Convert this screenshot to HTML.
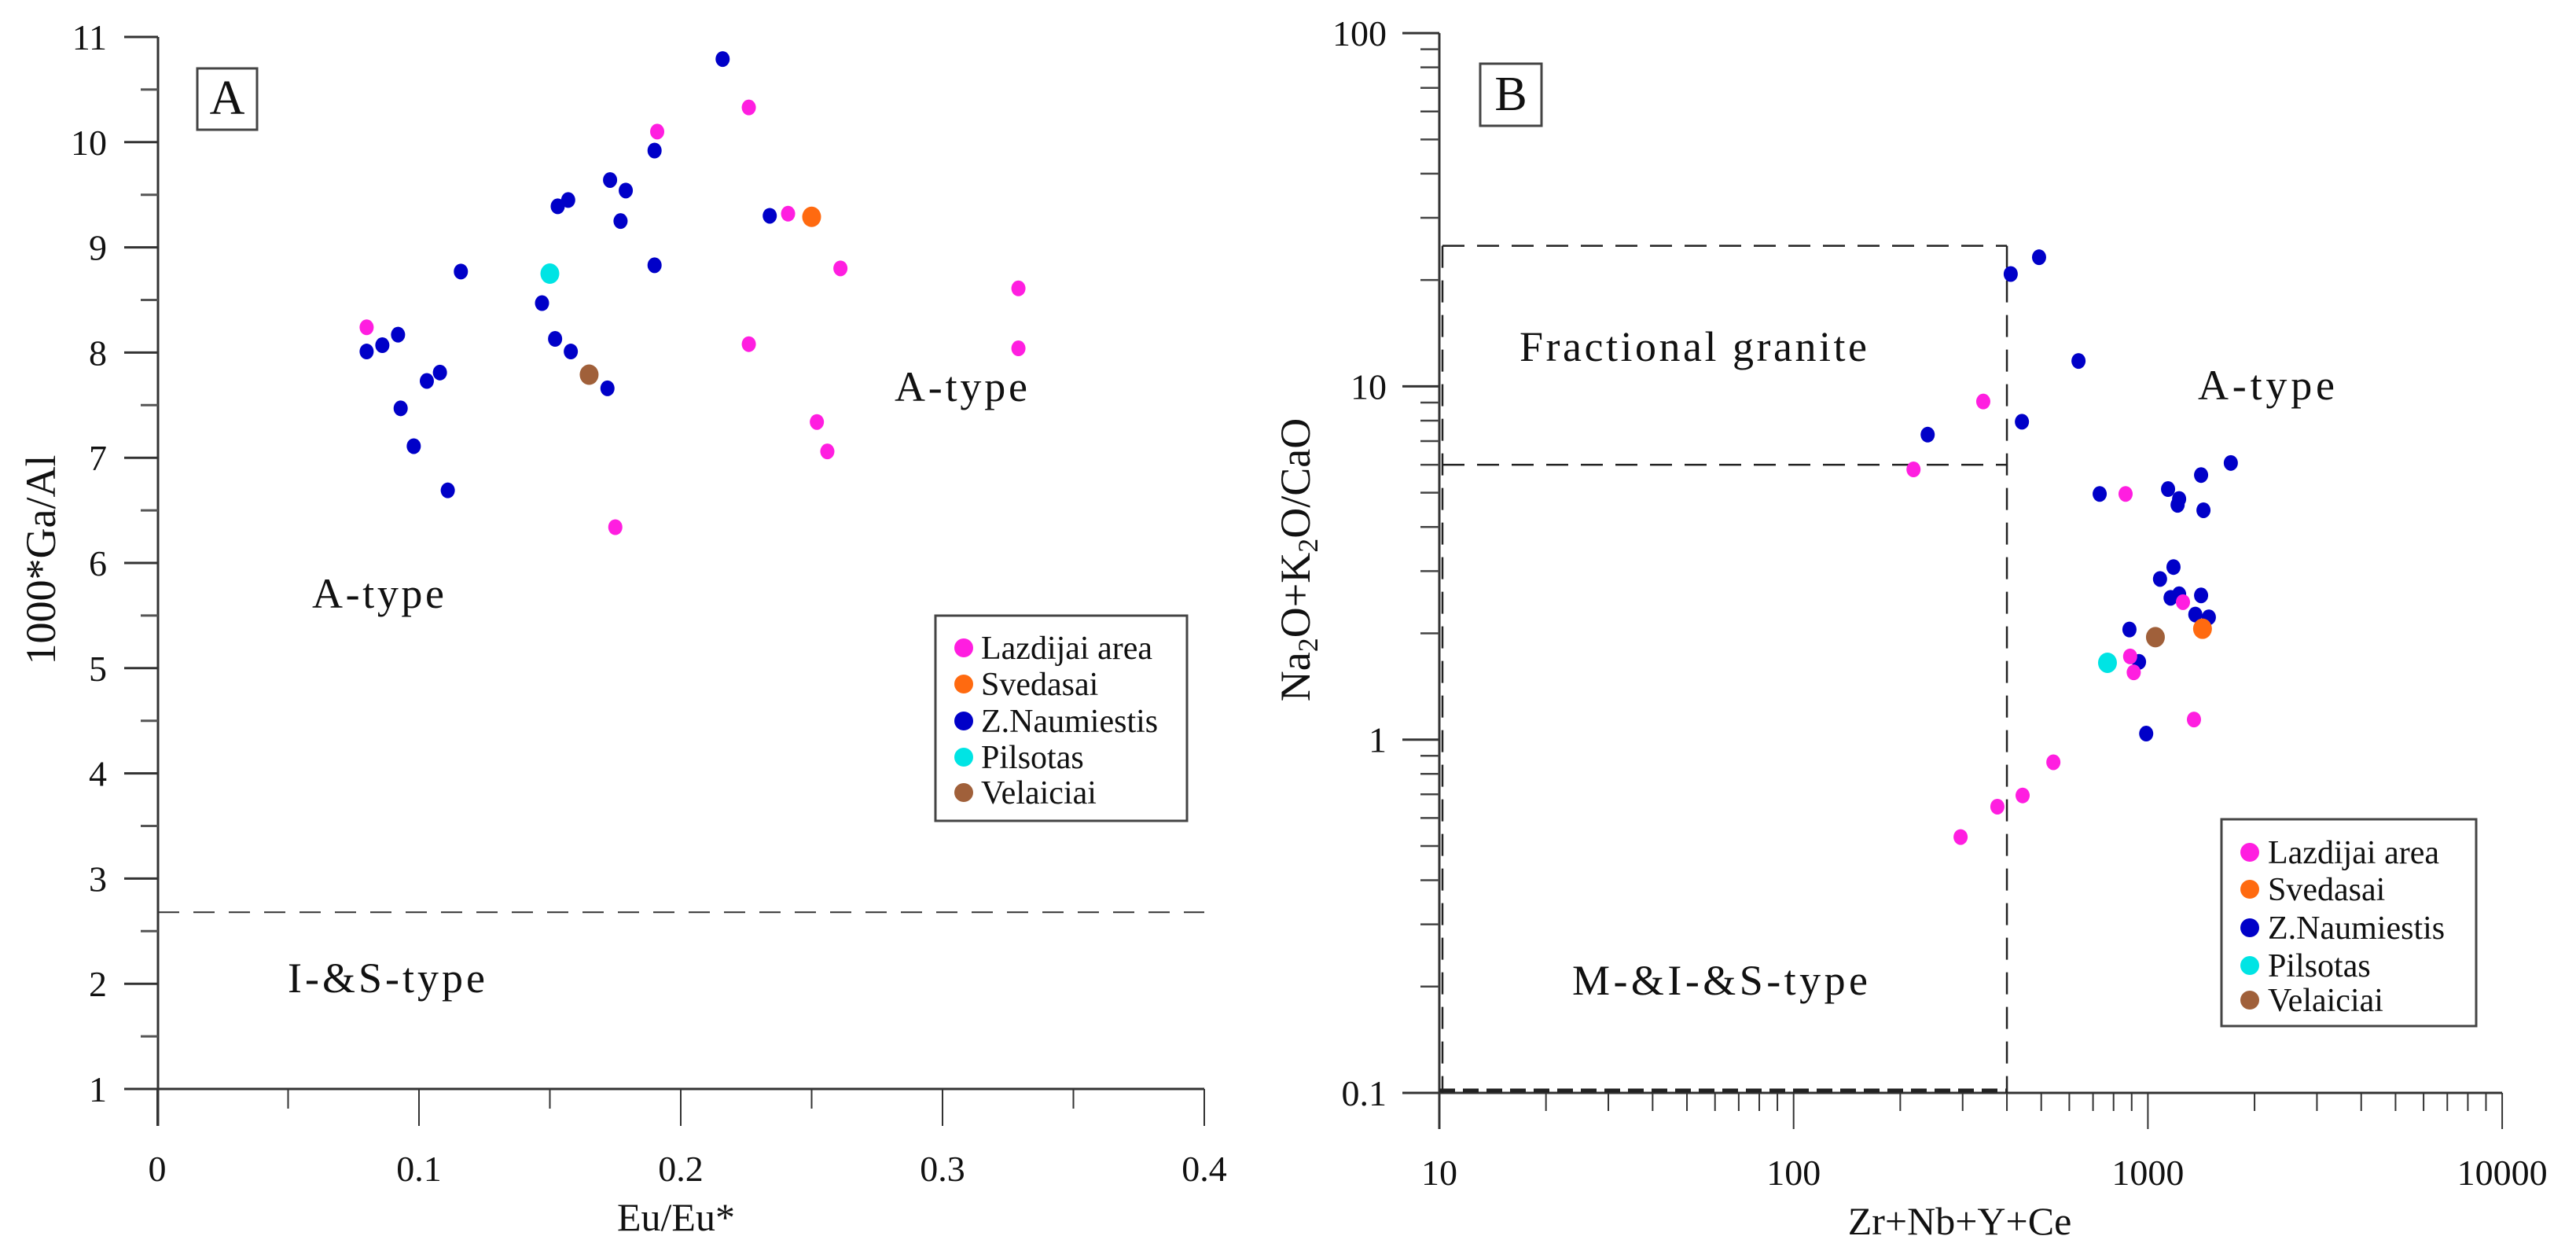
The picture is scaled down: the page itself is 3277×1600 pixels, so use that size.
<!DOCTYPE html>
<html><head><meta charset="utf-8"><title>Ga/Al and Na2O+K2O/CaO diagrams</title>
<style>
html,body{margin:0;padding:0;background:#fff;}
svg{display:block;}
text{font-family:"Liberation Serif","Times New Roman",serif;fill:#111;}
</style></head>
<body>
<svg id="chart" xmlns="http://www.w3.org/2000/svg" width="3277" height="1600" viewBox="0 0 3277 1600">
<g id="panelA"></g>
<g id="panelB"></g>
</svg>
<script>
// ---------- Panel A data ----------
const aTicksY = [1,2,3,4,5,6,7,8,9,10,11];
const aTicksX = [0,0.1,0.2,0.3,0.4];
const aTickLabelsX = ["0","0.1","0.2","0.3","0.4"];
const aThreshold = 2.68;
const aLazX = [0.080,0.191,0.226,0.241,0.261,0.226,0.329,0.329,0.252,0.256,0.175];
const aLazY = [8.24,10.10,10.33,9.32,8.80,8.08,8.61,8.04,7.34,7.06,6.34];
const aSveX = [0.250];
const aSveY = [9.29];
const aZnX = [0.216,0.190,0.173,0.179,0.157,0.153,0.177,0.234,0.190,0.116,0.147,0.092,0.086,0.080,0.152,0.158,0.108,0.103,0.172,0.093,0.098,0.111];
const aZnY = [10.79,9.92,9.64,9.54,9.45,9.39,9.25,9.30,8.83,8.77,8.47,8.17,8.07,8.01,8.13,8.01,7.81,7.73,7.66,7.47,7.11,6.69];
const aPilX = [0.150];
const aPilY = [8.75];
const aVelX = [0.165];
const aVelY = [7.79];

// ---------- Panel B data ----------
const bTicksX = [10,100,1000,10000];
const bTickLabelsX = ["10","100","1000","10000"];
const bTicksY = [0.1,1,10,100];
const bTickLabelsY = ["0.1","1","10","100"];
const bLazX = [343,218,865,1256,912,891,1349,541,443,376,296];
const bLazY = [9.06,5.82,4.96,2.45,1.55,1.72,1.14,0.863,0.695,0.646,0.53];
const bSveX = [1426];
const bSveY = [2.06];
const bZnX = [493,410,637,441,239,1714,1413,731,1140,1225,1213,1435,1181,1082,1225,1159,1413,1361,1486,887,944,989];
const bZnY = [23.2,20.8,11.8,7.94,7.3,6.07,5.61,4.96,5.12,4.80,4.62,4.46,3.08,2.85,2.58,2.52,2.56,2.26,2.22,2.05,1.66,1.04];
const bPilX = [769];
const bPilY = [1.65];
const bVelX = [1050];
const bVelY = [1.95];
const bBoxX = 400;
const bBoxTop = 25;
const bBoxMid = 6;

const COL = {laz:"#ff1ee0", sve:"#ff6a10", zn:"#0000c8", pil:"#00e4e4", vel:"#a0603a"};
const NS = "http://www.w3.org/2000/svg";
function mk(tag, attrs, parent){
  const e = document.createElementNS(NS, tag);
  for (const k in attrs) e.setAttribute(k, attrs[k]);
  parent.appendChild(e);
  return e;
}
function txt(parent, x, y, s, size, anchor){
  const t = mk("text", {x:x, y:y, "font-size":size, "text-anchor":anchor||"start"}, parent);
  t.textContent = s;
  return t;
}

// scales
const xA = v => 200 + v*3330;
const yA = v => 1385 - (v-1)*133.8;
const xB = v => 1831 + (Math.log10(v)-1)*450.7;
const yB = v => 1390 - (Math.log10(v)+1)*449.3;

// ===== Panel A =====
const A = document.getElementById("panelA");
const axA = mk("g", {}, A);


let l = mk("line", {x1:201, y1:yA(11), x2:201, y2:1432, stroke:"#333", "stroke-width":3}, axA);


l = mk("line", {x1:158, y1:1385, x2:xA(0.4), y2:1385, stroke:"#333", "stroke-width":3}, axA);


for (let i=0;i<aTicksY.length;i++){
  const v = aTicksY[i];
  mk("line", {x1:158, y1:yA(v), x2:201, y2:yA(v), stroke:"#333", "stroke-width":3}, axA);
  const t = txt(axA, 136, yA(v)+16, String(v), 46, "end");
  
  
  if (i < aTicksY.length-1) mk("line", {x1:179, y1:yA(v+0.5), x2:201, y2:yA(v+0.5), stroke:"#555", "stroke-width":3}, axA);
}
for (let i=0;i<aTicksX.length;i++){
  const v = aTicksX[i];
  mk("line", {x1:xA(v), y1:1385, x2:xA(v), y2:1432, stroke:"#333", "stroke-width":2}, axA);
  const t = txt(axA, xA(v), 1502, aTickLabelsX[i], 46, "middle");
  
  
  if (i < aTicksX.length-1) mk("line", {x1:xA(v+0.05), y1:1385, x2:xA(v+0.05), y2:1410, stroke:"#333", "stroke-width":2}, axA);
}
let t = txt(A, 860, 1565, "Eu/Eu*", 50, "middle");


t = mk("text", {x:0, y:0, "font-size":54, "text-anchor":"middle", transform:"translate(70,712) rotate(-90)"}, A);
t.textContent = "1000*Ga/Al";


// threshold
l = mk("line", {x1:201, y1:yA(aThreshold), x2:xA(0.4), y2:yA(aThreshold), stroke:"#333", "stroke-width":2, "stroke-dasharray":"27,18"}, A);


// panel label
let g = mk("g", {}, A);


mk("rect", {x:251, y:87, width:76, height:78, fill:"#fff", stroke:"#444", "stroke-width":3}, g);
txt(g, 289, 145, "A", 62, "middle");
t = txt(A, 1138, 510, "A-type", 54); t.setAttribute('textLength', 169);


t = txt(A, 397, 773, "A-type", 54); t.setAttribute('textLength', 168);


t = txt(A, 366, 1262, "I-&S-type", 54); t.setAttribute('textLength', 251);



function drawSeriesA(xs, ys, col, r, name){
  const sg = mk("g", {}, A);
  
  
  for (let i=0;i<xs.length;i++){
    const c = mk("ellipse", {cx:xA(xs[i]), cy:yA(ys[i]), rx:r, ry:r+1, fill:col}, sg);
    
    
  }
}
drawSeriesA(aZnX, aZnY, COL.zn, 9, 'series-a-z-naumiestis');
drawSeriesA(aLazX, aLazY, COL.laz, 9, 'series-a-lazdijai');
drawSeriesA(aSveX, aSveY, COL.sve, 12, 'series-a-svedasai');
drawSeriesA(aPilX, aPilY, COL.pil, 12, 'series-a-pilsotas');
drawSeriesA(aVelX, aVelY, COL.vel, 12, 'series-a-velaiciai');

const legendNames = ["Lazdijai area","Svedasai","Z.Naumiestis","Pilsotas","Velaiciai"];
const legendCols = [COL.laz, COL.sve, COL.zn, COL.pil, COL.vel];
function legend(parent, bx, by, bw, bh, mx, tx, rows, name){
  const lg = mk("g", {}, parent);
  
  
  mk("rect", {x:bx, y:by, width:bw, height:bh, fill:"#fff", stroke:"#444", "stroke-width":3}, lg);
  for (let i=0;i<legendNames.length;i++){
    const e = mk("g", {}, lg);
    
    
    mk("circle", {cx:mx, cy:rows[i], r:12, fill:legendCols[i]}, e);
    txt(e, tx, rows[i]+14, legendNames[i], 42);
  }
}
legend(A, 1190, 783, 320, 261, 1226, 1248, [824,870,917,963,1008], 'legend-a');

// ===== Panel B =====
const B = document.getElementById("panelB");
const axB = mk("g", {}, B);


l = mk("line", {x1:1831, y1:yB(100), x2:1831, y2:1436, stroke:"#333", "stroke-width":3}, axB);


l = mk("line", {x1:1784, y1:1390, x2:xB(10000), y2:1390, stroke:"#333", "stroke-width":3}, axB);


for (let i=0;i<bTicksY.length;i++){
  const v = bTicksY[i];
  mk("line", {x1:1784, y1:yB(v), x2:1831, y2:yB(v), stroke:"#333", "stroke-width":3}, axB);
  const tt = txt(axB, 1764, yB(v)+16, bTickLabelsY[i], 46, "end");
  
  
  if (i < bTicksY.length-1) for (let k=2;k<=9;k++){
    mk("line", {x1:1807, y1:yB(v*k), x2:1831, y2:yB(v*k), stroke:"#444", "stroke-width":2.5}, axB);
  }
}
for (let i=0;i<bTicksX.length;i++){
  const v = bTicksX[i];
  mk("line", {x1:xB(v), y1:1390, x2:xB(v), y2:1436, stroke:"#333", "stroke-width":2}, axB);
  const tt = txt(axB, xB(v), 1507, bTickLabelsX[i], 46, "middle");
  
  
  if (i < bTicksX.length-1) for (let k=2;k<=9;k++){
    mk("line", {x1:xB(v*k), y1:1390, x2:xB(v*k), y2:1413, stroke:"#333", "stroke-width":2}, axB);
  }
}
t = txt(B, 2493, 1570, "Zr+Nb+Y+Ce", 50, "middle");


t = mk("text", {x:0, y:0, "font-size":54, "text-anchor":"middle", transform:"translate(1666,712) rotate(-90)"}, B);
t.innerHTML = 'Na<tspan font-size="36" dy="10">2</tspan><tspan dy="-10">O+K</tspan><tspan font-size="36" dy="10">2</tspan><tspan dy="-10">O/CaO</tspan>';


// dashed fields
const fd = mk("g", {fill:"none", stroke:"#222", "stroke-width":2.5, "stroke-dasharray":"28,16"}, B);


mk("line", {x1:xB(10)+4, y1:yB(bBoxTop), x2:xB(bBoxX), y2:yB(bBoxTop)}, fd);
mk("line", {x1:xB(10)+4, y1:yB(bBoxMid), x2:xB(bBoxX), y2:yB(bBoxMid)}, fd);
mk("line", {x1:xB(bBoxX), y1:yB(bBoxTop), x2:xB(bBoxX), y2:yB(0.1)}, fd);
mk("line", {x1:xB(10)+4, y1:yB(bBoxTop), x2:xB(10)+4, y2:yB(0.1)}, fd);
mk("line", {x1:xB(10), y1:yB(0.1)-3, x2:xB(bBoxX), y2:yB(0.1)-3, "stroke-width":5, "stroke-dasharray":"20,10"}, fd);
g = mk("g", {}, B);


mk("rect", {x:1883, y:81, width:78, height:79, fill:"#fff", stroke:"#444", "stroke-width":3}, g);
txt(g, 1922, 140, "B", 62, "middle");
t = txt(B, 1933, 459, "Fractional granite", 54); t.setAttribute('textLength', 442);


t = txt(B, 2796, 508, "A-type", 54); t.setAttribute('textLength', 174);


t = txt(B, 2000, 1265, "M-&I-&S-type", 54); t.setAttribute('textLength', 376);



function drawSeriesB(xs, ys, col, r, name){
  const sg = mk("g", {}, B);
  
  
  for (let i=0;i<xs.length;i++){
    const c = mk("ellipse", {cx:xB(xs[i]), cy:yB(ys[i]), rx:r, ry:r+1, fill:col}, sg);
    
    
  }
}
drawSeriesB(bZnX, bZnY, COL.zn, 9, 'series-b-z-naumiestis');
drawSeriesB(bLazX, bLazY, COL.laz, 9, 'series-b-lazdijai');
drawSeriesB(bSveX, bSveY, COL.sve, 12, 'series-b-svedasai');
drawSeriesB(bPilX, bPilY, COL.pil, 12, 'series-b-pilsotas');
drawSeriesB(bVelX, bVelY, COL.vel, 12, 'series-b-velaiciai');
legend(B, 2826, 1042, 324, 263, 2862, 2885, [1084,1131,1180,1228,1272], 'legend-b');
</script>
</body></html>
